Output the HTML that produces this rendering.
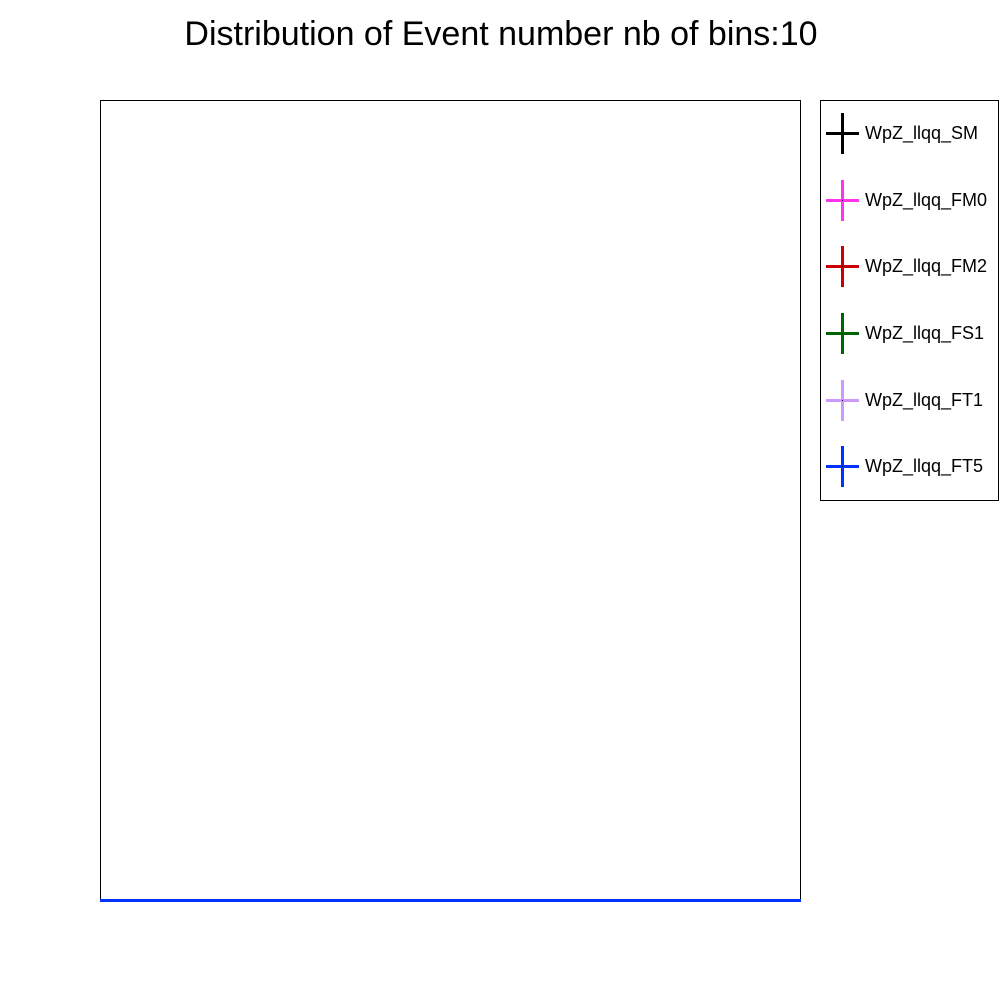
<!DOCTYPE html>
<html>
<head>
<meta charset="utf-8">
<title>Distribution of Event number</title>
<style>
html,body{margin:0;padding:0;background:#fff;}
svg{display:block;}
text{font-family:"Liberation Sans",sans-serif;fill:#000;}
</style>
</head>
<body>
<svg id="chart" xmlns="http://www.w3.org/2000/svg" width="1000" height="1000" viewBox="0 0 1000 1000">
  <rect x="0" y="0" width="1000" height="1000" fill="#fff"/>
  <text x="501" y="45" font-size="34" text-anchor="middle">Distribution of Event number nb of bins:10</text>
  <rect x="100.5" y="100.5" width="700" height="800" fill="none" stroke="#000" stroke-width="1"/>
  <g id="series-layer"></g>
  <rect x="820.5" y="100.5" width="178" height="400" fill="#fff" stroke="#000" stroke-width="1"/>
  <g id="legend-layer"></g>
</svg>
<script>
var binEdges = [0, 1, 2, 3, 4, 5, 6, 7, 8, 9, 10];
var seriesNames = ['WpZ_llqq_SM', 'WpZ_llqq_FM0', 'WpZ_llqq_FM2', 'WpZ_llqq_FS1', 'WpZ_llqq_FT1', 'WpZ_llqq_FT5'];
var seriesColors = ['#000000', '#ff33ee', '#cc0000', '#006600', '#cc99ff', '#0033ff'];
var valuesSM = [0, 0, 0, 0, 0, 0, 0, 0, 0, 0];
var valuesFM0 = [0, 0, 0, 0, 0, 0, 0, 0, 0, 0];
var valuesFM2 = [0, 0, 0, 0, 0, 0, 0, 0, 0, 0];
var valuesFS1 = [0, 0, 0, 0, 0, 0, 0, 0, 0, 0];
var valuesFT1 = [0, 0, 0, 0, 0, 0, 0, 0, 0, 0];
var valuesFT5 = [0, 0, 0, 0, 0, 0, 0, 0, 0, 0];
var allValues = [valuesSM, valuesFM0, valuesFM2, valuesFS1, valuesFT1, valuesFT5];
var yDomainMax = 1;

var NS = 'http://www.w3.org/2000/svg';
function xAxis(v) {
  return 100 + (v - binEdges[0]) / (binEdges[binEdges.length - 1] - binEdges[0]) * 701;
}
function yAxis(v) {
  return 900.5 - v / yDomainMax * 800;
}
function make(tag, attrs, parent) {
  var el = document.createElementNS(NS, tag);
  for (var k in attrs) { el.setAttribute(k, attrs[k]); }
  parent.appendChild(el);
  return el;
}
var seriesLayer = document.getElementById('series-layer');
var legendLayer = document.getElementById('legend-layer');

allValues.forEach(function (vals, s) {
  var pts = [];
  vals.forEach(function (v, i) {
    pts.push(xAxis(binEdges[i]) + ',' + yAxis(v));
    pts.push(xAxis(binEdges[i + 1]) + ',' + yAxis(v));
  });
  var line = make('polyline', {points: pts.join(' '), fill: 'none', stroke: seriesColors[s], 'stroke-width': 3}, seriesLayer);
  
  
});

seriesNames.forEach(function (name, s) {
  var row = Math.floor(133.6 + s * 66.6);
  var cy = row + 0.5;
  var h = make('line', {x1: 826, x2: 859, y1: cy, y2: cy, stroke: seriesColors[s], 'stroke-width': 3}, legendLayer);
  
  
  var v = make('line', {x1: 842.5, x2: 842.5, y1: cy - 20.5, y2: cy + 20.5, stroke: seriesColors[s], 'stroke-width': 3}, legendLayer);
  
  
  var dot = make('rect', {x: 842, y: row, width: 1, height: 1, fill: '#000'}, legendLayer);
  
  
  var t = make('text', {x: 865, y: row + 6, 'font-size': 18}, legendLayer);
  t.textContent = name;
  
  
});
</script>
</body>
</html>
